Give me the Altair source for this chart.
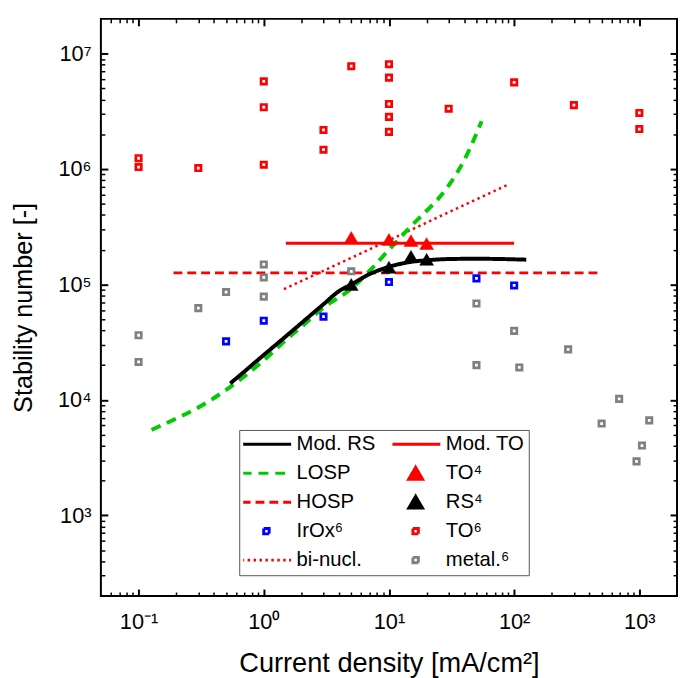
import altair as alt
import pandas as pd

FONT = "Liberation Sans"

# ---------------- data ----------------
MOD_RS_X = [0.54, 0.7, 1, 1.5, 2, 3, 4, 5, 7, 10, 15, 20, 30, 50, 80, 125]
MOD_RS_Y = [1.39e4, 1.76e4, 2.45e4, 3.55e4, 4.63e4, 6.74e4, 8.77e4, 1.0e5, 1.23e5,
            1.42e5, 1.57e5, 1.62e5, 1.66e5, 1.67e5, 1.66e5, 1.64e5]

MOD_TO_X = [1.5, 100]
MOD_TO_Y = [2.28e5, 2.28e5]

LOSP_X = [0.127, 0.2, 0.3, 0.5, 0.7, 1, 1.5, 2, 3, 5, 7, 10, 15, 20, 25, 30, 40, 55]
LOSP_Y = [5.5e3, 6.9e3, 8.6e3, 1.22e4, 1.6e4, 2.2e4, 3.3e4, 4.3e4, 6.3e4, 9.2e4,
          1.31e5, 2.0e5, 3.2e5, 4.35e5, 5.6e5, 7.2e5, 1.2e6, 2.6e6]

HOSP_X = [0.19, 500]
HOSP_Y = [1.26e5, 1.26e5]

BINUCL_X = [1.45, 90]
BINUCL_Y = [9.1e4, 7.35e5]

TO4_X = [5, 10, 15, 20]
TO4_Y = [2.55e5, 2.45e5, 2.4e5, 2.26e5]

RS4_X = [5, 10, 15, 20]
RS4_Y = [1.0e5, 1.41e5, 1.75e5, 1.65e5]

IROX_X = [0.5, 1, 3, 10, 50, 100]
IROX_Y = [3.21e4, 4.85e4, 5.26e4, 1.05e5, 1.13e5, 9.8e4]

TO6_X = [0.1, 0.1, 0.3, 1, 1, 1, 3, 3, 5, 10, 10, 10, 10, 10, 30, 100, 300, 1000, 1000]
TO6_Y = [1.24e6, 1.04e6, 1.02e6, 1.09e6, 5.75e6, 3.43e6, 2.18e6, 1.47e6, 7.78e6,
         8.1e6, 6.19e6, 3.66e6, 2.83e6, 2.1e6, 3.33e6, 5.64e6, 3.58e6, 3.06e6, 2.22e6]

METAL_X = [0.1, 0.1, 0.3, 0.5, 1, 1, 1, 5, 50, 100, 270, 50, 110, 690, 500, 1200, 1050, 950]
METAL_Y = [3.63e4, 2.13e4, 6.24e4, 8.6e4, 1.49e5, 1.15e5, 7.85e4, 1.30e5, 6.84e4,
           3.96e4, 2.74e4, 2.0e4, 1.91e4, 1.02e4, 6.24e3, 6.65e3, 4.02e3, 2.93e3]

# legend entries, row by row (two columns)
NAMES = ["Mod. RS", "Mod. TO", "LOSP", "TO⁴", "HOSP", "RS⁴", "IrOx⁶", "TO⁶", "bi-nucl.", "metal.⁶"]

X_TICKS = [0.1, 1, 10, 100, 1000]
X_TICK_LABELS = ["10⁻¹", "10⁰", "10¹", "10²", "10³"]
X_MINOR = [m * d for d in [0.01, 0.1, 1, 10, 100] for m in range(2, 10)
           if 0.05 < m * d < 2000]
Y_TICKS = [1e3, 1e4, 1e5, 1e6, 1e7]
Y_TICK_LABELS = ["10³", "10⁴", "10⁵", "10⁶", "10⁷"]
Y_MINOR = [m * d for d in [100, 1e3, 1e4, 1e5, 1e6, 1e7] for m in range(2, 10)
           if 200 < m * d < 2e7]

# ---------------- styles (per legend entry, in NAMES order) ----------------
RED, BLACK, GREEN, BLUE, GRAY = "#ff0000", "#000000", "#00cc00", "#0000ff", "#808080"
LINE_PATH = "M-1,0H1"
TRI_PATH = "M0,-0.24L0.28,0.24L-0.28,0.24Z"
SQ_PATH = "M-0.11,-0.11H0.11V0.11H-0.11Z"
STROKES = [BLACK, RED, GREEN, RED, RED, BLACK, BLUE, RED, RED, GRAY]
FILLS = ["transparent", "transparent", "transparent", RED, "transparent", BLACK,
         "transparent", "transparent", "transparent", "transparent"]
SHAPES = [LINE_PATH, LINE_PATH, LINE_PATH, TRI_PATH, LINE_PATH, TRI_PATH,
          SQ_PATH, SQ_PATH, LINE_PATH, SQ_PATH]
DASHES = [[1, 0], [1, 0], [10, 7], [1, 0], [9, 5], [1, 0], [1, 0], [1, 0], [2.5, 3.5], [1, 0]]

legend = alt.Legend(
    title=None, orient="none", legendX=140, legendY=416, columns=2, direction="horizontal",
    symbolSize=2500, symbolStrokeWidth=3, symbolFillColor="transparent",
    symbolStrokeColor="black", symbolOpacity=1,
    clipHeight=21, symbolOffset=-3,
    labelOffset=4, labelFont=FONT, labelFontSize=20.5, labelColor="black", labelLimit=200,
    padding=4, rowPadding=8.3, columnPadding=17,
    strokeColor="#555555", fillColor="white",
)

xscale = alt.Scale(type="log", domain=[0.05, 2000], nice=False)
yscale = alt.Scale(type="log", domain=[200, 2e7], nice=False)
stroke_scale = alt.Scale(domain=NAMES, range=STROKES)
fill_scale = alt.Scale(domain=NAMES, range=FILLS)
shape_scale = alt.Scale(domain=NAMES, range=SHAPES)
dash_scale = alt.Scale(domain=NAMES, range=DASHES)

XEXPR = "[" + ",".join("'%s'" % s for s in X_TICK_LABELS) + "][round(log(datum.value)/LN10)+1]"
YEXPR = "[" + ",".join("'%s'" % s for s in Y_TICK_LABELS) + "][round(log(datum.value)/LN10)-3]"

common = dict(domain=False, grid=False, tickColor="black", labelFont=FONT, labelColor="black",
              titleFont=FONT, titleColor="black", titleFontWeight="normal", labelOverlap=False)

x_axes = [
    alt.Axis(orient="bottom", values=X_TICKS, labelExpr=XEXPR, tickSize=7, offset=-7, tickWidth=2,
             labelFontSize=22, labelPadding=16, title="Current density [mA/cm²]",
             titleFontSize=27.5, titlePadding=17, **common),
    alt.Axis(orient="bottom", values=X_MINOR, labels=False, tickSize=4, offset=-4, tickWidth=1.5,
             title=None, **common),
    alt.Axis(orient="top", values=X_TICKS, labels=False, tickSize=7, offset=-7, tickWidth=2,
             title=None, **common),
    alt.Axis(orient="top", values=X_MINOR, labels=False, tickSize=4, offset=-4, tickWidth=1.5,
             title=None, **common),
]
y_axes = [
    alt.Axis(orient="left", values=Y_TICKS, labelExpr=YEXPR, tickSize=7, offset=-7, tickWidth=2,
             labelFontSize=22, labelPadding=10, title="Stability number [-]",
             titleFontSize=25.5, titlePadding=21, **common),
    alt.Axis(orient="left", values=Y_MINOR, labels=False, tickSize=4, offset=-4, tickWidth=1.5,
             title=None, **common),
    alt.Axis(orient="right", values=Y_TICKS, labels=False, tickSize=7, offset=-7, tickWidth=2,
             title=None, **common),
    alt.Axis(orient="right", values=Y_MINOR, labels=False, tickSize=4, offset=-4, tickWidth=1.5,
             title=None, **common),
]


def frame(xs, ys, name):
    return pd.DataFrame({"x": xs, "y": ys, "series": name})


def pos(i):
    xa = x_axes[i] if i < len(x_axes) else None
    ya = y_axes[i] if i < len(y_axes) else None
    return dict(x=alt.X("x:Q", scale=xscale, axis=xa),
                y=alt.Y("y:Q", scale=yscale, axis=ya))


LINES = [
    (HOSP_X, HOSP_Y, "HOSP", dict(strokeWidth=3)),
    (BINUCL_X, BINUCL_Y, "bi-nucl.", dict(strokeWidth=2.5)),
    (LOSP_X, LOSP_Y, "LOSP", dict(strokeWidth=4, interpolate="monotone")),
    (MOD_TO_X, MOD_TO_Y, "Mod. TO", dict(strokeWidth=3)),
    (MOD_RS_X, MOD_RS_Y, "Mod. RS", dict(strokeWidth=4, interpolate="monotone")),
]
POINTS = [
    (METAL_X, METAL_Y, "metal.⁶", dict(strokeWidth=2.7)),
    (IROX_X, IROX_Y, "IrOx⁶", dict(strokeWidth=2.7)),
    (TO6_X, TO6_Y, "TO⁶", dict(strokeWidth=2.7)),
    (TO4_X, TO4_Y, "TO⁴", dict(strokeWidth=0.5)),
    (RS4_X, RS4_Y, "RS⁴", dict(strokeWidth=0.5)),
]

layers = []
i = 0
for xs, ys, name, style in LINES:
    layers.append(
        alt.Chart(frame(xs, ys, name)).mark_line(**style).encode(
            stroke=alt.Stroke("series:N", scale=stroke_scale, legend=legend),
            strokeDash=alt.StrokeDash("series:N", scale=dash_scale, legend=legend),
            **pos(i),
        )
    )
    i += 1
for xs, ys, name, style in POINTS:
    layers.append(
        alt.Chart(frame(xs, ys, name)).mark_point(size=2500, filled=True, opacity=1, **style).encode(
            stroke=alt.Stroke("series:N", scale=stroke_scale, legend=legend),
            fill=alt.Fill("series:N", scale=fill_scale, legend=legend),
            shape=alt.Shape("series:N", scale=shape_scale, legend=legend),
            **pos(i),
        )
    )
    i += 1

chart = (
    alt.layer(*layers)
    .resolve_axis(x="independent", y="independent")
    .properties(width=583, height=584,
                autosize=alt.AutoSizeParams(type="none"),
                padding={"left": 94, "top": 7, "right": 1, "bottom": 79},
                background="white")
    .configure_view(stroke="black", strokeWidth=2)
)

chart.save("out.html", embed_options={"renderer": "svg", "actions": False})
